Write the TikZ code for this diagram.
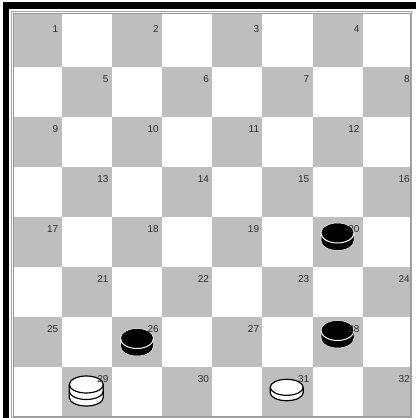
\documentclass[tikz,border=0pt]{standalone}
\usepackage{fontspec}
\setmainfont{Liberation Sans}
\definecolor{sqgray}{HTML}{BEBEBE}
\definecolor{lblgray}{HTML}{2E2E2E}
\newcommand\bpiece[2]{%
 \begin{scope}[shift={(#1,#2)}]
  \fill[black] (-16.5,0) -- (-16.5,7.5) arc[start angle=180,end angle=0,x radius=16.5,y radius=10] -- (16.5,0) arc[start angle=0,end angle=-180,x radius=16.5,y radius=10] -- cycle;
  \draw[white,line width=0.5] (-16.5,0) -- (-16.5,7.5) arc[start angle=180,end angle=0,x radius=16.5,y radius=10] -- (16.5,0) arc[start angle=0,end angle=-180,x radius=16.5,y radius=10] -- cycle;
  \draw[white,line width=1.0] (-16.5,0) arc[start angle=180,end angle=0,x radius=16.5,y radius=10];
 \end{scope}}
\newcommand\wpiece[6]{%
 \begin{scope}[shift={(#1,#2)}]
  \pgfmathsetmacro\hh{#5*#6}
  \filldraw[fill=white,draw=black,line width=1.2] (-#3,0) -- (-#3,\hh) arc[start angle=180,end angle=0,x radius=#3,y radius=#4] -- (#3,0) arc[start angle=0,end angle=-180,x radius=#3,y radius=#4] -- cycle;
  \foreach \k in {1,...,#6} {\draw[black,line width=1.2] (-#3,{#5*(\k-1)}) arc[start angle=180,end angle=0,x radius=#3,y radius=#4];}
 \end{scope}}
\begin{document}
\begin{tikzpicture}[x=1pt,y=-1pt,
  darksq/.style={fill=sqgray},
  lbl/.style={font=\fontsize{10}{11}\selectfont, text=lblgray, inner sep=0pt, anchor=base east}]
\useasboundingbox (0,0) rectangle (416,418);
\fill[white] (0,0) rectangle (416,418);
\fill[black] (3,2) rectangle (416,9);
\fill[black] (3,2) rectangle (9,418);
\draw[gray!70,line width=0.8] (11.5,11.5) rectangle (411.5,417.5);
\begin{scope}
 \clip (13,13) rectangle (410,416);
 \foreach \r in {0,...,7} {
  \foreach \c in {0,...,7} {
   \pgfmathtruncatemacro\dk{mod(\r+\c,2)}
   \ifnum\dk=0
    \pgfmathsetmacro\xl{11.3+50.2*\c-20*(\c==0)}
    \pgfmathsetmacro\xr{11.3+50.2*(\c+1)+20*(\c==7)}
    \pgfmathsetmacro\yt{16.7+50*\r-20*(\r==0)}
    \pgfmathsetmacro\yb{16.7+50*(\r+1)+20*(\r==7)}
    \fill[darksq] (\xl,\yt) rectangle (\xr,\yb);
   \fi
  }
 }
\end{scope}
\draw[gray!80,line width=0.6] (13,13) rectangle (410,416);
\bpiece{337.5}{233}
\bpiece{137}{338.5}
\bpiece{337.5}{330.5}
\wpiece{86.3}{384.5}{17}{8.5}{6.5}{2}
\wpiece{286.7}{387.3}{16.5}{8}{5.4}{1}
\foreach \r in {0,...,7} {
 \foreach \c in {0,...,7} {
  \pgfmathtruncatemacro\dk{mod(\r+\c,2)}
  \ifnum\dk=0
   \pgfmathtruncatemacro\num{4*\r+floor(\c/2)+1}
   \pgfmathsetmacro\lx{11.3+50.2*(\c+1)-3}
   \pgfmathsetmacro\ly{16.7+50*\r+15.4}
   \node[lbl] (n\num) at (\lx,\ly) {\num};
  \fi
 }
}
\end{tikzpicture}
\end{document}
